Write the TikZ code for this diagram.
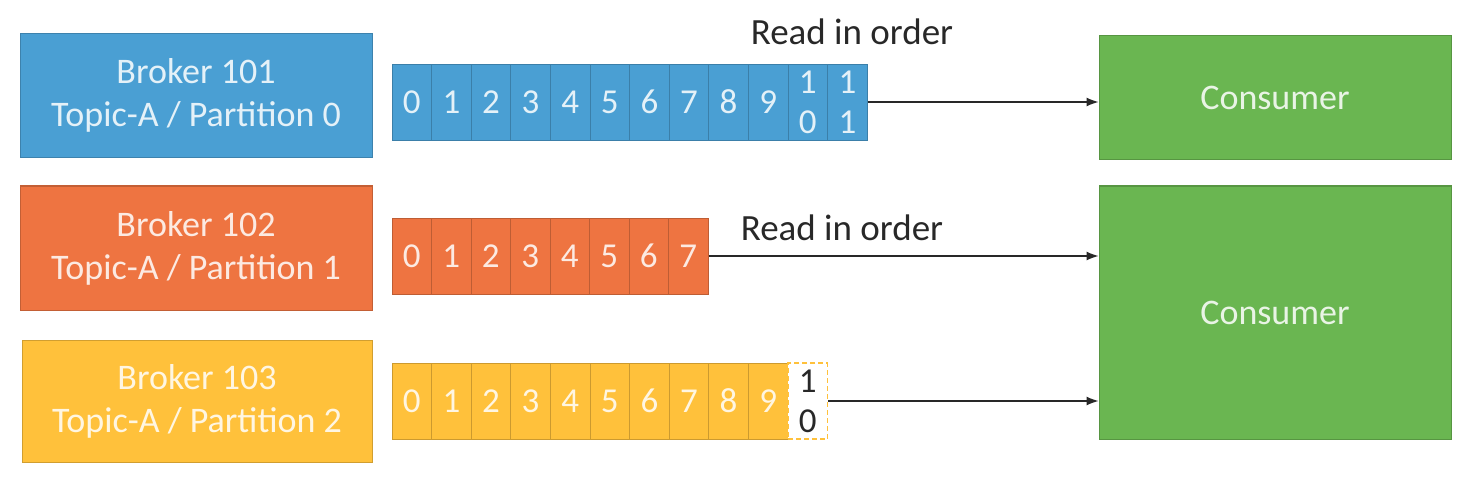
\documentclass[tikz,border=0pt]{standalone}
\usepackage{fontspec}
\setmainfont{Carlito}
\usetikzlibrary{arrows.meta}
\definecolor{kblue}{RGB}{74,159,211}
\definecolor{korange}{RGB}{238,116,65}
\definecolor{kyellow}{RGB}{255,193,59}
\definecolor{kgreen}{RGB}{106,182,81}
\definecolor{kink}{RGB}{40,40,40}
\begin{document}
\begin{tikzpicture}[x=1pt,y=-1pt,
  box/.style={draw=#1!82!black, fill=#1, text=white!85!#1, line width=1pt,
    minimum width=352pt, minimum height=124pt, align=center,
    font=\fontsize{36}{43}\selectfont},
  cell/.style={draw=#1!80!black, fill=#1, text=white!85!#1, line width=0.8pt,
    minimum width=39.6pt, minimum height=76pt, align=center,
    font=\fontsize{35}{40}\selectfont},
  readarrow/.style={draw=kink, line width=1.2pt, -{Latex[length=12pt,width=9pt]}},
  readlabel/.style={text=kink, font=\fontsize{37}{40}\selectfont}]
\tikzstyle{every node}+=[inner sep=0pt]
\useasboundingbox (0,0) rectangle (1473,492);
\node [box=kblue] (broker0) at (196,95.5) {Broker 101\\Topic-A / Partition 0};
\node [box=korange] (broker1) at (196,248) {Broker 102\\Topic-A / Partition 1};
\node [box=kyellow, minimum width=350pt, minimum height=122pt] (broker2) at (197,401) {Broker 103\\Topic-A / Partition 2};
\node [box=kgreen] (cons0) at (1275,98) {Consumer};
\node [box=kgreen, minimum height=253pt] (cons1) at (1275,312.5) {Consumer};
% partition 0
\node [cell=kblue] (p0c0) at (411.8,102) {0};
\node [cell=kblue] (p0c1) at (451.4,102) {1};
\node [cell=kblue] (p0c2) at (491.0,102) {2};
\node [cell=kblue] (p0c3) at (530.6,102) {3};
\node [cell=kblue] (p0c4) at (570.2,102) {4};
\node [cell=kblue] (p0c5) at (609.8,102) {5};
\node [cell=kblue] (p0c6) at (649.4,102) {6};
\node [cell=kblue] (p0c7) at (689.0,102) {7};
\node [cell=kblue] (p0c8) at (728.6,102) {8};
\node [cell=kblue] (p0c9) at (768.2,102) {9};
\node [cell=kblue] (p0c10) at (807.8,102) {1\\0};
\node [cell=kblue] (p0c11) at (847.4,102) {1\\1};
% partition 1
\node [cell=korange] (p1c0) at (411.8,256) {0};
\node [cell=korange] (p1c1) at (451.3,256) {1};
\node [cell=korange] (p1c2) at (490.8,256) {2};
\node [cell=korange] (p1c3) at (530.3,256) {3};
\node [cell=korange] (p1c4) at (569.8,256) {4};
\node [cell=korange] (p1c5) at (609.3,256) {5};
\node [cell=korange] (p1c6) at (648.8,256) {6};
\node [cell=korange] (p1c7) at (688.3,256) {7};
% partition 2
\node [cell=kyellow] (p2c0) at (411.8,401) {0};
\node [cell=kyellow] (p2c1) at (451.4,401) {1};
\node [cell=kyellow] (p2c2) at (491.0,401) {2};
\node [cell=kyellow] (p2c3) at (530.6,401) {3};
\node [cell=kyellow] (p2c4) at (570.2,401) {4};
\node [cell=kyellow] (p2c5) at (609.8,401) {5};
\node [cell=kyellow] (p2c6) at (649.4,401) {6};
\node [cell=kyellow] (p2c7) at (689.0,401) {7};
\node [cell=kyellow] (p2c8) at (728.6,401) {8};
\node [cell=kyellow] (p2c9) at (768.2,401) {9};
\node [cell=kyellow, fill=white, draw=kyellow, line width=1.5pt, dashed, dash pattern=on 5pt off 3pt, text=kink] (p2c10) at (807.8,401) {1\\0};
% reads
\draw [readarrow] (p0c11.east) -- (p0c11.east -| cons0.west);
\draw [readarrow] (p1c7.east) -- (p1c7.east -| cons1.west);
\draw [readarrow] (p2c10.east) -- (p2c10.east -| cons1.west);
\node [readlabel] (read0) at (852,32) {Read in order};
\node [readlabel] (read1) at (842,228) {Read in order};
\end{tikzpicture}
\end{document}
